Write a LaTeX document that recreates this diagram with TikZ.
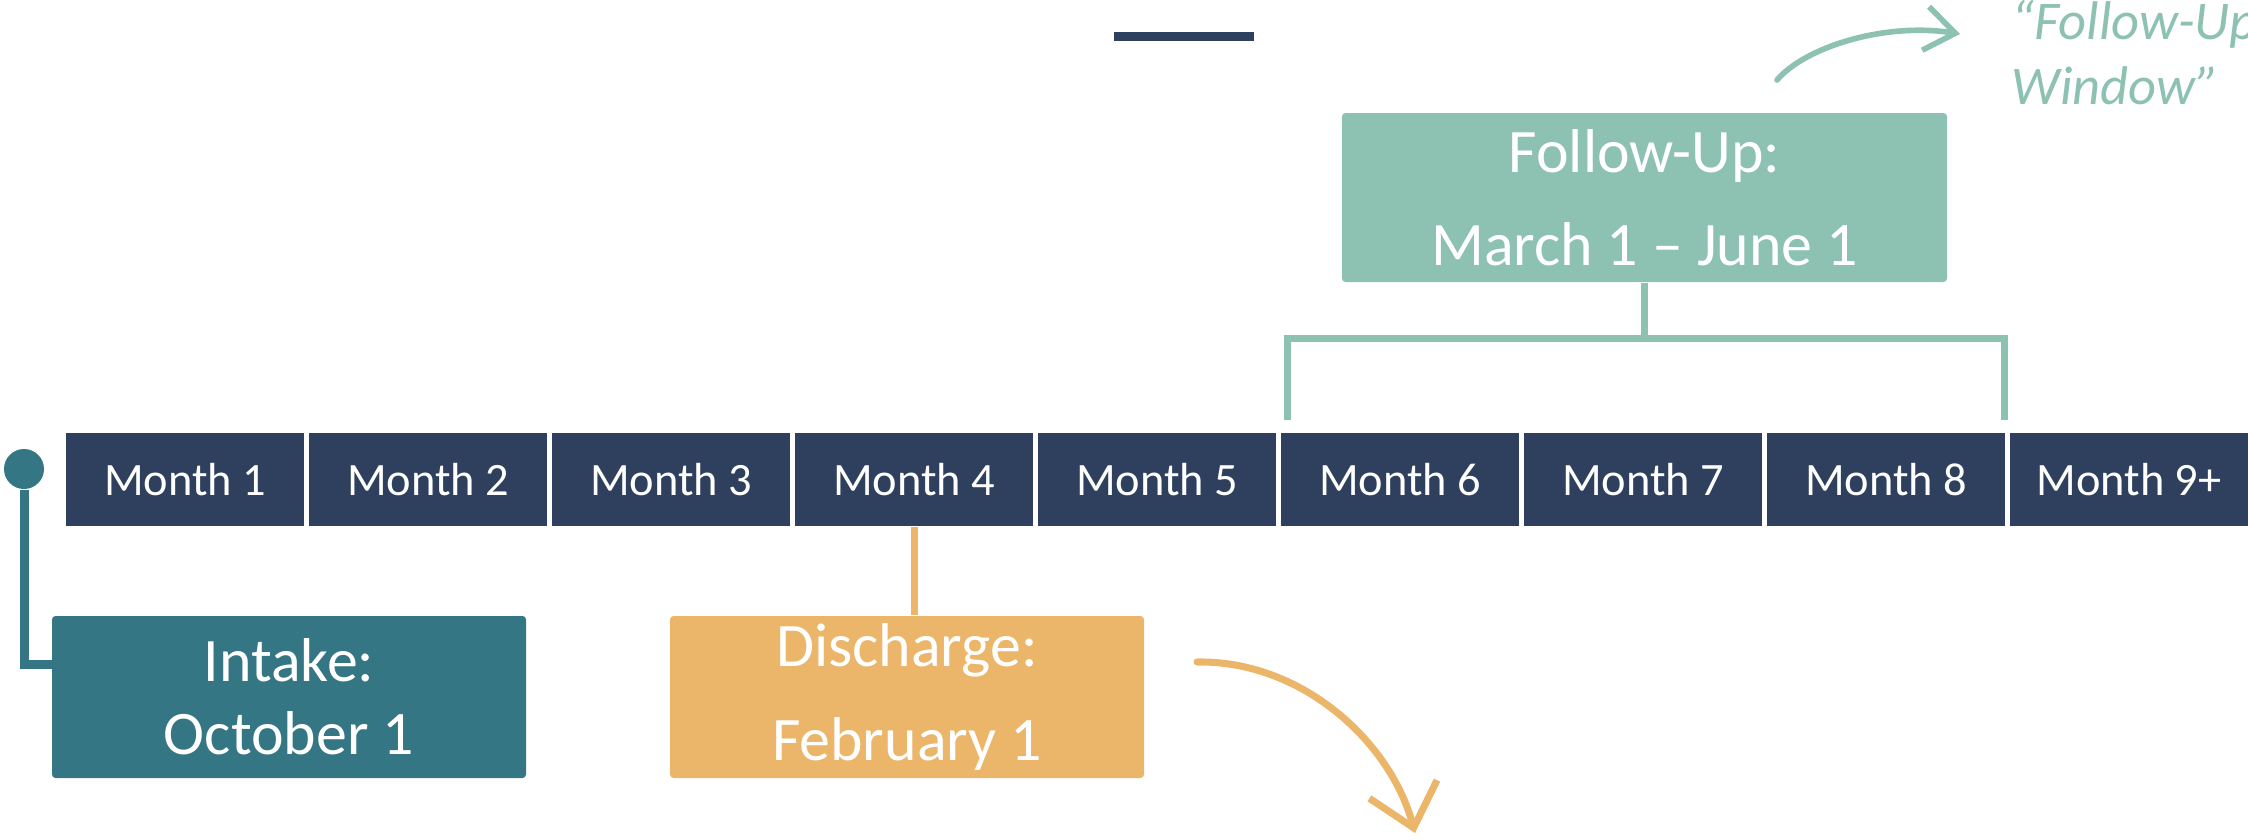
\documentclass[tikz,border=0pt]{standalone}
\usepackage{fontspec}
\setmainfont{Carlito}
\usetikzlibrary{arrows.meta}
\definecolor{navy}{RGB}{47,64,94}
\definecolor{tealc}{RGB}{53,118,132}
\definecolor{orangec}{RGB}{235,181,106}
\definecolor{greenc}{RGB}{141,193,178}

\begin{document}
\begin{tikzpicture}[
		month/.style={fill=navy, text=white, minimum width=2.38cm, minimum height=0.93cm, inner sep=0pt, font=\fontsize{13.2}{15}\selectfont},
		event/.style={fill=#1, text=white, rounded corners=1pt, inner sep=0pt, align=center},
		link/.style={draw=#1, line width=0.07cm},
		curvy/.style={draw=#1, line width=1.6pt, line cap=round},
	]
			\useasboundingbox (0,0) rectangle (22.48,-8.39);
			\draw[navy, line width=0.09cm] (11.14,-0.365) -- (12.54,-0.365);
			
			\node	(m1) at (1.85,-4.795) [month] {Month 1};
			\node	(m2) at (4.28,-4.795) [month] {Month 2};
			\node	(m3) at (6.71,-4.795) [month] {Month 3};
			\node	(m4) at (9.14,-4.795) [month] {Month 4};
			\node	(m5) at (11.57,-4.795) [month] {Month 5};
			\node	(m6) at (14.00,-4.795) [month] {Month 6};
			\node	(m7) at (16.43,-4.795) [month] {Month 7};
			\node	(m8) at (18.86,-4.795) [month] {Month 8};
			\node	(m9) at (21.29,-4.795) [month] {Month 9+};
			
			\node	(dot) at (0.24,-4.69) [circle, fill=tealc, minimum size=0.4cm, inner sep=0pt] {};
			\node	(intake) at (2.89,-6.97) [event=tealc, minimum width=4.74cm, minimum height=1.62cm, font=\fontsize{17.6}{20.7}\selectfont] {Intake:\\October 1};
			\node	(dis) at (9.07,-6.97) [event=orangec, minimum width=4.74cm, minimum height=1.62cm, font=\fontsize{17.6}{27}\selectfont] {Discharge:\\February 1};
			\node	(fu) at (16.445,-1.975) [event=greenc, minimum width=6.05cm, minimum height=1.69cm, font=\fontsize{17.6}{26.5}\selectfont] {Follow-Up:\\March 1 – June 1};
			\node	(fuw) at (20.11,0.0) [anchor=north west, inner sep=0pt, align=left, text=greenc, font=\itshape\fontsize{15.5}{18.5}\selectfont] {“Follow-Up\\Window”};
			
			\coordinate (ijoin) at (0.52,-6.64);
			\coordinate (brk) at (0,-3.38);
			\coordinate (legl) at (12.87,-4.20);
			\coordinate (legr) at (20.04,-4.20);
			\coordinate (os) at (11.97,-6.62);
			\coordinate (oe) at (14.15,-8.33);
			\coordinate (gs) at (17.77,-0.80);
			\coordinate (ge) at (19.60,-0.34);
			
			\draw[link=tealc, line width=0.09cm] (dot) |- (ijoin);
			\draw[link=orangec] (m4.south) -- (m4.south |- dis.north);
			\draw[link=greenc] (fu.south) -- (fu.south |- brk);
			\draw[link=greenc] (legl) -- (legl |- brk) -- (legr |- brk) -- (legr);
			
			\draw[curvy=orangec, line width=2pt, -{Straight Barb[length=4mm,width=7mm]}] (os) .. controls (13.0,-6.60) and (13.9,-7.40) .. (oe);
			\draw[curvy=greenc, -{Straight Barb[length=3mm,width=4.4mm]}] (gs) .. controls (18.05,-0.47) and (18.85,-0.22) .. (ge);
		\end{tikzpicture}
\end{document}
